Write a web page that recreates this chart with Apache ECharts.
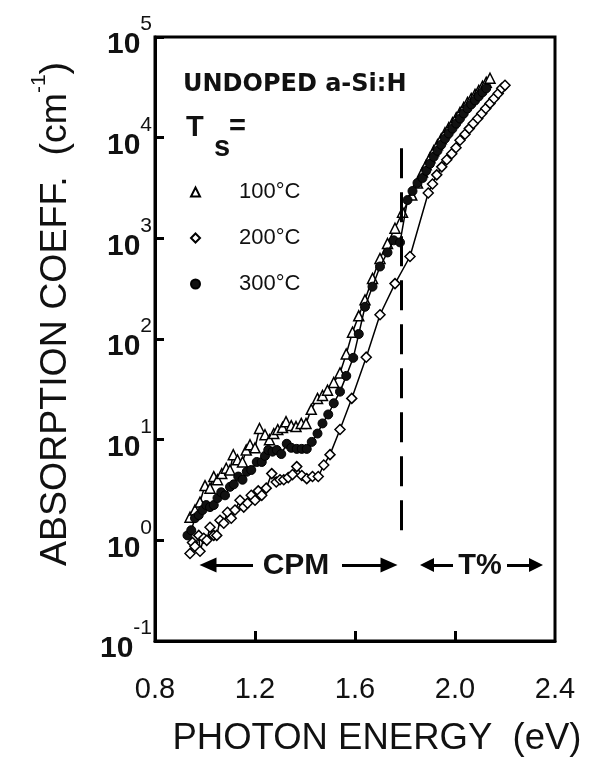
<!DOCTYPE html>
<html>
<head>
<meta charset="utf-8">
<script src="https://cdn.jsdelivr.net/npm/echarts@6/dist/echarts.min.js"></script>
<style>
  html, body { margin: 0; padding: 0; background: #fff; }
  #main { width: 592px; height: 763px; }
</style>
</head>
<body>
<div id="main"></div>
<script>
var myChart = echarts.init(document.getElementById('main'));

// photon energy (eV) and absorption coeff. (cm^-1)
var e100 = [0.94, 0.96, 0.98, 1.00, 1.02, 1.035, 1.05, 1.067, 1.085, 1.10, 1.113, 1.13, 1.15, 1.165, 1.18, 1.20,
    1.218, 1.24, 1.258, 1.275, 1.291, 1.31, 1.324, 1.345, 1.364, 1.385, 1.404, 1.425, 1.45, 1.47, 1.49, 1.515,
    1.54, 1.565, 1.59, 1.615, 1.64, 1.67, 1.70, 1.73, 1.76, 1.79, 1.827, 1.85, 1.87, 1.885, 1.90, 1.915, 1.93,
    1.945, 1.96, 1.975, 1.99, 2.005, 2.02, 2.035, 2.05, 2.065, 2.08, 2.095, 2.11, 2.125, 2.14];
var a100 = [1.7, 2.0, 2.4, 3.5, 3.3, 4.3, 4.0, 4.6, 5.2, 5.0, 7.1, 6.3, 6.0, 7.9, 8.9, 8.3,
    12.9, 11.2, 10, 11.5, 12.6, 13.2, 15.1, 13.8, 13.5, 14.5, 14.5, 20, 25.7, 27.5, 31, 37,
    46, 71, 117, 170, 245, 400, 630, 890, 1260, 1820, 2690, 3550, 4570, 5370, 6310, 7410, 8510,
    9770, 11200, 12600, 14100, 15800, 17800, 20000, 22400, 24500, 26900, 29500, 32400, 35500, 38900];

var e200 = [0.94, 0.95, 0.96, 0.975, 0.98, 0.995, 1.007, 1.02, 1.035, 1.047, 1.06, 1.075, 1.09, 1.105, 1.12,
    1.14, 1.155, 1.17, 1.185, 1.20, 1.213, 1.227, 1.245, 1.267, 1.285, 1.30, 1.315, 1.333, 1.35, 1.367, 1.387,
    1.407, 1.43, 1.453, 1.475, 1.50, 1.54, 1.587, 1.645, 1.70, 1.76, 1.82, 1.893, 1.91, 1.927, 1.947, 1.967,
    1.987, 2.004, 2.02, 2.04, 2.057, 2.073, 2.091, 2.107, 2.123, 2.14, 2.156, 2.173, 2.187, 2.20];
var a200 = [0.74, 0.95, 0.87, 1.12, 0.78, 1.05, 1.0, 1.35, 1.12, 1.12, 1.58, 1.48, 1.9, 1.66, 2.0,
    2.5, 2.14, 2.34, 2.8, 2.5, 3.1, 2.8, 3.3, 4.6, 3.8, 4.0, 4.0, 4.2, 4.5, 5.4, 4.4,
    4.1, 4.3, 4.3, 5.6, 7.1, 12.6, 25.7, 66, 174, 355, 660, 2820, 3470, 4270, 5130, 6030,
    6920, 7940, 9440, 10800, 12300, 13800, 15500, 17400, 19500, 21900, 24500, 27500, 30900, 33100];

var e300 = [0.93, 0.945, 0.96, 0.975, 0.99, 1.005, 1.02, 1.035, 1.05, 1.065, 1.08, 1.10, 1.115, 1.133, 1.15,
    1.167, 1.185, 1.207, 1.227, 1.24, 1.253, 1.27, 1.287, 1.305, 1.327, 1.345, 1.367, 1.387, 1.407, 1.427,
    1.45, 1.47, 1.493, 1.515, 1.54, 1.565, 1.593, 1.615, 1.64, 1.67, 1.70, 1.73, 1.755, 1.78, 1.81, 1.83,
    1.85, 1.87, 1.885, 1.90, 1.915, 1.93, 1.945, 1.96, 1.975, 1.99, 2.005, 2.02, 2.035, 2.05, 2.065, 2.08,
    2.095, 2.11, 2.125];
var a300 = [1.12, 1.26, 1.66, 1.78, 2.0, 2.24, 2.14, 2.24, 2.63, 3.0, 2.8, 3.4, 3.6, 4.3, 4.0,
    4.8, 5.0, 6.0, 6.0, 6.9, 7.9, 7.6, 7.9, 7.2, 9.1, 8.3, 8.1, 8.1, 8.1, 9.5,
    11.5, 14.5, 17.8, 23, 30, 43, 65, 112, 209, 331, 525, 724, 955, 912, 2400, 2950,
    3550, 3980, 4680, 5500, 6460, 7410, 8510, 9770, 11000, 12300, 13800, 15500, 17400, 19500, 21400, 23400,
    25700, 28200, 30900];

var seriesNames = ['100°C', '200°C', '300°C'];
var xTicks = [1.2, 1.6, 2.0];
var cpmEdge = 1.785;          // dashed boundary CPM / T%
var dashSpan = [7870, 1.08];

var pairs = function (xs, ys) {
    var res = [];
    for (var i = 0; i < xs.length; i++) {
        res.push([xs[i], ys[i]]);
    }
    return res;
};

var font = 'Liberation Sans, Arial, sans-serif';
var arrowY = 0.569;
var head = function (size) {
    return { symbol: 'triangle', symbolSize: size };
};

option = {
    backgroundColor: '#fff',
    animation: false,
    grid: {
        left: 155, top: 37, width: 400, height: 604,
        show: true, borderColor: '#000', borderWidth: 3
    },
    xAxis: {
        type: 'value',
        min: 0.8, max: 2.4, interval: 0.4,
        name: 'PHOTON ENERGY  (eV)',
        nameLocation: 'middle',
        nameGap: 79,
        nameTextStyle: { fontSize: 36.5, fontFamily: font, color: '#111', padding: [0, 0, 0, 44] },
        axisLine: { show: true, lineStyle: { color: '#000', width: 3 } },
        axisTick: {
            show: true, inside: true, length: 10, lineStyle: { color: '#000', width: 3 },
            customValues: xTicks
        },
        axisLabel: {
            fontSize: 29, fontFamily: font, color: '#111', margin: 34,
            formatter: function (v) { return v.toFixed(1); }
        },
        splitLine: { show: false }
    },
    yAxis: {
        type: 'log',
        logBase: 10,
        min: 0.1, max: 100000,
        name: '{n|ABSORPTION COEFF.  (cm}{s|-1}{n|)}',
        nameLocation: 'middle',
        nameRotate: 90,
        nameGap: 80,
        nameTextStyle: {
            padding: [0, 0, 0, 50],
            rich: {
                n: { fontSize: 37.5, fontFamily: font, color: '#111', verticalAlign: 'bottom', lineHeight: 46 },
                s: { fontSize: 21, fontFamily: font, color: '#111', verticalAlign: 'top' }
            }
        },
        axisLine: { show: true, lineStyle: { color: '#000', width: 3 } },
        axisTick: { show: true, inside: true, length: 9, lineStyle: { color: '#000', width: 3 } },
        axisLabel: {
            margin: 3,
            showMinLabel: true, showMaxLabel: true,
            formatter: function (v) {
                return '{b|10}{s|' + Math.round(Math.log10(v)) + '}';
            },
            rich: {
                b: { fontSize: 30, fontWeight: 'bold', fontFamily: font, color: '#111', verticalAlign: 'bottom', lineHeight: 46 },
                s: { fontSize: 21, fontFamily: font, color: '#111', verticalAlign: 'top' }
            }
        },
        splitLine: { show: false }
    },
    legend: {
        orient: 'vertical',
        left: 185, top: 176,
        itemWidth: 9, itemHeight: 9,
        itemGap: 24,
        textStyle: { fontSize: 22, fontFamily: font, color: '#111', lineHeight: 22, padding: [0, 0, 0, 34] },
        data: [
            { name: seriesNames[0], icon: 'triangle' },
            { name: seriesNames[1], icon: 'diamond' },
            { name: seriesNames[2], icon: 'circle' }
        ]
    },
    graphic: [
        { type: 'text', x: 183, y: 85, style: { text: 'UNDOPED a-Si:H', font: 'bold 24px DejaVu Sans', fill: '#111', textAlign: 'left', textVerticalAlign: 'middle', align: 'left', verticalAlign: 'middle' } },
        { type: 'text', x: 186, y: 128, style: { text: 'T', font: 'bold 29px Liberation Sans', fill: '#111', textAlign: 'left', textVerticalAlign: 'middle', align: 'left', verticalAlign: 'middle' } },
        { type: 'text', x: 229, y: 127, style: { text: '=', font: 'bold 29px Liberation Sans', fill: '#111', textAlign: 'left', textVerticalAlign: 'middle', align: 'left', verticalAlign: 'middle' } },
        { type: 'text', x: 214, y: 148, style: { text: 's', font: 'bold 29px Liberation Sans', fill: '#111', textAlign: 'left', textVerticalAlign: 'middle', align: 'left', verticalAlign: 'middle' } },
        { type: 'text', x: 296, y: 566, style: { text: 'CPM', font: 'bold 30px Liberation Sans', fill: '#111', textAlign: 'center', textVerticalAlign: 'middle', align: 'center', verticalAlign: 'middle' } },
        { type: 'text', x: 480, y: 566, style: { text: 'T%', font: 'bold 29px Liberation Sans', fill: '#111', textAlign: 'center', textVerticalAlign: 'middle', align: 'center', verticalAlign: 'middle' } }
    ],
    series: [
        {
            name: seriesNames[0],
            type: 'line',
            data: pairs(e100, a100),
            symbol: 'triangle',
            symbolSize: 10,
            lineStyle: { color: '#000', width: 1.5 },
            itemStyle: { color: '#fff', borderColor: '#000', borderWidth: 1.5 },
            z: 3,
            markLine: {
                silent: true,
                animation: false,
                label: { show: false },
                lineStyle: { color: '#000', width: 3, type: [30, 14] },
                symbol: 'none',
                data: [
                    [{ coord: [cpmEdge, dashSpan[0]] }, { coord: [cpmEdge, dashSpan[1]] }]
                ]
            }
        },
        {
            name: seriesNames[1],
            type: 'line',
            data: pairs(e200, a200),
            symbol: 'diamond',
            symbolSize: 10,
            lineStyle: { color: '#000', width: 1.5 },
            itemStyle: { color: '#fff', borderColor: '#000', borderWidth: 1.5 },
            z: 2,
            markLine: {
                silent: true,
                animation: false,
                label: { show: false },
                lineStyle: { color: '#000', width: 3, type: 'solid' },
                data: [
                    [Object.assign({ coord: [1.192, arrowY] }, { symbol: 'none' }), Object.assign({ coord: [1.012, arrowY] }, head([15, 17]))],
                    [Object.assign({ coord: [1.548, arrowY] }, { symbol: 'none' }), Object.assign({ coord: [1.736, arrowY] }, head([15, 17]))],
                    [Object.assign({ coord: [1.992, arrowY] }, { symbol: 'none' }), Object.assign({ coord: [1.888, arrowY] }, head([14, 14]))],
                    [Object.assign({ coord: [2.208, arrowY] }, { symbol: 'none' }), Object.assign({ coord: [2.324, arrowY] }, head([14, 14]))]
                ]
            }
        },
        {
            name: seriesNames[2],
            type: 'line',
            data: pairs(e300, a300),
            symbol: 'circle',
            symbolSize: 9,
            lineStyle: { color: '#000', width: 1.5 },
            itemStyle: { color: '#111', borderColor: '#000', borderWidth: 1 },
            z: 4
        }
    ]
};

myChart.setOption(option);
</script>
</body>
</html>
